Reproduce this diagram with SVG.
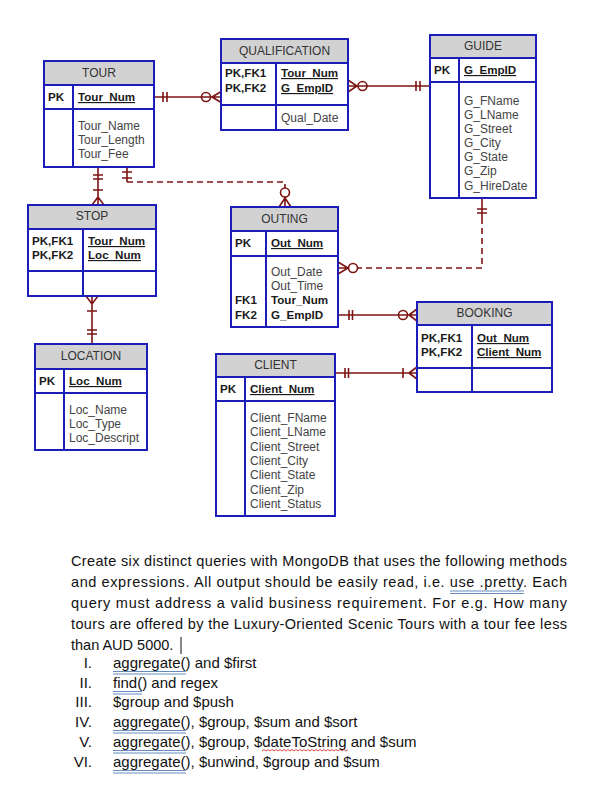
<svg xmlns="http://www.w3.org/2000/svg" width="602" height="794" viewBox="0 0 602 794">
<style>
.box{fill:#fff;stroke:#1c1cb8;stroke-width:2}
.hdr{fill:#d2d2d2;stroke:#1c1cb8;stroke-width:2}
.div{stroke:#1c1cb8;stroke-width:2;fill:none}
.ttl{font-family:"Liberation Sans",Arial,sans-serif;font-size:12px;fill:#333;text-anchor:middle}
.key{font-family:"Liberation Sans",Arial,sans-serif;font-size:11.6px;font-weight:bold;fill:#1a1a1a}
.pk{font-family:"Liberation Sans",Arial,sans-serif;font-size:11.6px;font-weight:bold;fill:#1a1a1a;text-decoration:underline}
.att{font-family:"Liberation Sans",Arial,sans-serif;font-size:12px;fill:#444}
.con{stroke:#7d1414;stroke-width:1.6;fill:none}
.dash{stroke-dasharray:6 4}
.txt{font-family:"Liberation Sans",Arial,sans-serif;font-size:14.5px;fill:#111}
.li{font-family:"Liberation Sans",Arial,sans-serif;font-size:15px;fill:#111}
.ul{stroke:#3f6fb0;stroke-width:0.8;fill:none}
</style>
<rect width="602" height="794" fill="#fff"/>

<g id="connectors">
  <!-- TOUR - QUALIFICATION -->
  <path class="con" d="M154,97 H222 M163,92 V102 M167,92 V102 M212,97 L222,91 M212,97 L222,103"/>
  <circle class="con" cx="206" cy="97" r="4.5" fill="#fff"/>
  <!-- QUALIFICATION - GUIDE -->
  <path class="con" d="M348,86 H430 M348,80 L357,86 L348,92 M416,81 V91 M420,81 V91"/>
  <circle class="con" cx="362.5" cy="86" r="4.5" fill="#fff"/>
  <!-- TOUR - STOP -->
  <path class="con" d="M98,167 V205 M93,175 H103 M93,179 H103 M93,190 H103 M98,197 L92,205 M98,197 L104,205"/>
  <!-- TOUR - OUTING (dashed) -->
  <path class="con dash" d="M127,182 H285 V188"/>
  <path class="con" d="M127,167 V182 M122,172 H132 M122,178 H132 M285,197 V207 M285,198 L279,207 M285,198 L291,207"/>
  <circle class="con" cx="285" cy="192.5" r="4.5" fill="#fff"/>
  <!-- GUIDE - OUTING (dashed) -->
  <path class="con dash" d="M482,218 V268 H358"/>
  <path class="con" d="M482,198 V218 M477,209 H487 M477,213 H487 M338,262 L348,268 L338,274 M338,268 H349"/>
  <circle class="con" cx="353" cy="268" r="4.5" fill="#fff"/>
  <!-- OUTING - BOOKING -->
  <path class="con" d="M338,315 H417 M349,310 V320 M352.5,310 V320 M409,315 L417,309 M409,315 L417,321"/>
  <circle class="con" cx="403" cy="315" r="4.5" fill="#fff"/>
  <!-- CLIENT - BOOKING -->
  <path class="con" d="M335,373 H417 M345,368 V378 M348.5,368 V378 M403,368 V378 M409,373 L417,367 M409,373 L417,379"/>
  <!-- STOP - LOCATION -->
  <path class="con" d="M92,296 V344 M86,296 L92,304 L98,296 M87,311 H97 M87,330 H97 M87,334 H97"/>
</g>

<g id="tour">
  <rect class="box" x="44" y="61" width="110" height="106"/>
  <rect class="hdr" x="44" y="61" width="110" height="24"/>
  <path class="div" d="M44,109 H154 M73,85 V167"/>
  <text class="ttl" x="99" y="77">TOUR</text>
  <text class="key" x="48" y="101">PK</text>
  <text class="pk" x="78" y="101">Tour_Num</text>
  <text class="att" x="78" y="130">Tour_Name</text>
  <text class="att" x="78" y="144">Tour_Length</text>
  <text class="att" x="78" y="158">Tour_Fee</text>
</g>

<g id="qualification">
  <rect class="box" x="221" y="39" width="127" height="91"/>
  <rect class="hdr" x="221" y="39" width="127" height="24"/>
  <path class="div" d="M221,105 H348 M276,63 V130"/>
  <text class="ttl" x="284.5" y="55">QUALIFICATION</text>
  <text class="key" x="225" y="77">PK,FK1</text>
  <text class="key" x="225" y="92">PK,FK2</text>
  <text class="pk" x="281" y="77">Tour_Num</text>
  <text class="pk" x="281" y="92">G_EmpID</text>
  <text class="att" x="281" y="122">Qual_Date</text>
</g>

<g id="guide">
  <rect class="box" x="430" y="35" width="106" height="163"/>
  <rect class="hdr" x="430" y="35" width="106" height="23"/>
  <path class="div" d="M430,82 H536 M459,58 V198"/>
  <text class="ttl" x="483" y="50">GUIDE</text>
  <text class="key" x="434" y="74">PK</text>
  <text class="pk" x="464" y="74">G_EmpID</text>
  <text class="att" x="464" y="105">G_FName</text>
  <text class="att" x="464" y="119">G_LName</text>
  <text class="att" x="464" y="133">G_Street</text>
  <text class="att" x="464" y="147">G_City</text>
  <text class="att" x="464" y="161">G_State</text>
  <text class="att" x="464" y="175">G_Zip</text>
  <text class="att" x="464" y="190">G_HireDate</text>
</g>

<g id="stop">
  <rect class="box" x="28" y="205" width="128" height="91"/>
  <rect class="hdr" x="28" y="205" width="128" height="24"/>
  <path class="div" d="M28,271 H156 M83,229 V296"/>
  <text class="ttl" x="92" y="220">STOP</text>
  <text class="key" x="32" y="245">PK,FK1</text>
  <text class="key" x="32" y="259">PK,FK2</text>
  <text class="pk" x="88" y="245">Tour_Num</text>
  <text class="pk" x="88" y="259">Loc_Num</text>
</g>

<g id="location">
  <rect class="box" x="35" y="344" width="112" height="106"/>
  <rect class="hdr" x="35" y="344" width="112" height="25"/>
  <path class="div" d="M35,393 H147 M64,369 V450"/>
  <text class="ttl" x="91" y="360">LOCATION</text>
  <text class="key" x="39" y="385">PK</text>
  <text class="pk" x="69" y="385">Loc_Num</text>
  <text class="att" x="69" y="414">Loc_Name</text>
  <text class="att" x="69" y="428">Loc_Type</text>
  <text class="att" x="69" y="442">Loc_Descript</text>
</g>

<g id="outing">
  <rect class="box" x="231" y="207" width="107" height="120"/>
  <rect class="hdr" x="231" y="207" width="107" height="24"/>
  <path class="div" d="M231,256 H338 M266,231 V327"/>
  <text class="ttl" x="284.5" y="223">OUTING</text>
  <text class="key" x="235" y="247">PK</text>
  <text class="pk" x="271" y="247">Out_Num</text>
  <text class="att" x="271" y="276">Out_Date</text>
  <text class="att" x="271" y="290">Out_Time</text>
  <text class="key" x="235" y="304">FK1</text>
  <text class="key" x="235" y="319">FK2</text>
  <text class="key" x="271" y="304">Tour_Num</text>
  <text class="key" x="271" y="319">G_EmpID</text>
</g>

<g id="booking">
  <rect class="box" x="417" y="302" width="135" height="90"/>
  <rect class="hdr" x="417" y="302" width="135" height="23"/>
  <path class="div" d="M417,368 H552 M472,325 V392"/>
  <text class="ttl" x="484.5" y="317">BOOKING</text>
  <text class="key" x="421" y="342">PK,FK1</text>
  <text class="key" x="421" y="356">PK,FK2</text>
  <text class="pk" x="477" y="342">Out_Num</text>
  <text class="pk" x="477" y="356">Client_Num</text>
</g>

<g id="client">
  <rect class="box" x="216" y="354" width="119" height="162"/>
  <rect class="hdr" x="216" y="354" width="119" height="23"/>
  <path class="div" d="M216,401 H335 M245,377 V516"/>
  <text class="ttl" x="275.5" y="369">CLIENT</text>
  <text class="key" x="220" y="393">PK</text>
  <text class="pk" x="250" y="393">Client_Num</text>
  <text class="att" x="250" y="422">Client_FName</text>
  <text class="att" x="250" y="436">Client_LName</text>
  <text class="att" x="250" y="451">Client_Street</text>
  <text class="att" x="250" y="465">Client_City</text>
  <text class="att" x="250" y="479">Client_State</text>
  <text class="att" x="250" y="494">Client_Zip</text>
  <text class="att" x="250" y="508">Client_Status</text>
</g>

<g id="question">
  <text class="txt" x="71" y="566" textLength="496" lengthAdjust="spacing">Create six distinct queries with MongoDB that uses the following methods</text>
  <text class="txt" x="71" y="587" textLength="496" lengthAdjust="spacing">and expressions. All output should be easily read, i.e. use .pretty. Each</text>
  <text class="txt" x="71" y="608" textLength="496" lengthAdjust="spacing">query must address a valid business requirement. For e.g. How many</text>
  <text class="txt" x="71" y="629" textLength="496" lengthAdjust="spacing">tours are offered by the Luxury-Oriented Scenic Tours with a tour fee less</text>
  <text class="txt" x="71" y="650">than AUD 5000.</text>
  <path d="M181,637 V654" stroke="#111" stroke-width="1"/>
  <path class="ul" d="M450,591 H524 M450,593.5 H524"/>

  <text class="li" x="92" y="668" text-anchor="end">I.</text>
  <text class="li" x="92" y="688" text-anchor="end">II.</text>
  <text class="li" x="92" y="707" text-anchor="end">III.</text>
  <text class="li" x="92" y="727" text-anchor="end">IV.</text>
  <text class="li" x="92" y="747" text-anchor="end">V.</text>
  <text class="li" x="92" y="767" text-anchor="end">VI.</text>

  <text class="li" x="113" y="668">aggregate() and $first</text>
  <text class="li" x="113" y="688">find() and regex</text>
  <text class="li" x="113" y="707">$group and $push</text>
  <text class="li" x="113" y="727">aggregate(), $group, $sum and $sort</text>
  <text class="li" x="113" y="747">aggregate(), $group, $dateToString and $sum</text>
  <text class="li" x="113" y="767">aggregate(), $unwind, $group and $sum</text>

  <path class="ul" d="M113,671.5 H186 M113,674 H186 M113,691.5 H142 M113,694 H142 M113,730.5 H186 M113,733 H186 M113,750.5 H186 M113,753 H186 M113,770.5 H186 M113,773 H186"/>
  <path d="M262,751 l2,-1.5 l2,1.5 l2,-1.5 l2,1.5 l2,-1.5 l2,1.5 l2,-1.5 l2,1.5 l2,-1.5 l2,1.5 l2,-1.5 l2,1.5 l2,-1.5 l2,1.5 l2,-1.5 l2,1.5 l2,-1.5 l2,1.5 l2,-1.5 l2,1.5 l2,-1.5 l2,1.5 l2,-1.5 l2,1.5 l2,-1.5 l2,1.5 l2,-1.5 l2,1.5 l2,-1.5 l2,1.5 l2,-1.5 l2,1.5 l2,-1.5 l2,1.5 l2,-1.5 l2,1.5 l2,-1.5 l2,1.5 l2,-1.5 l2,1.5 l2,-1.5 l2,1.5 l2,-1.5" stroke="#d02020" stroke-width="0.8" fill="none"/>
</g>
</svg>
